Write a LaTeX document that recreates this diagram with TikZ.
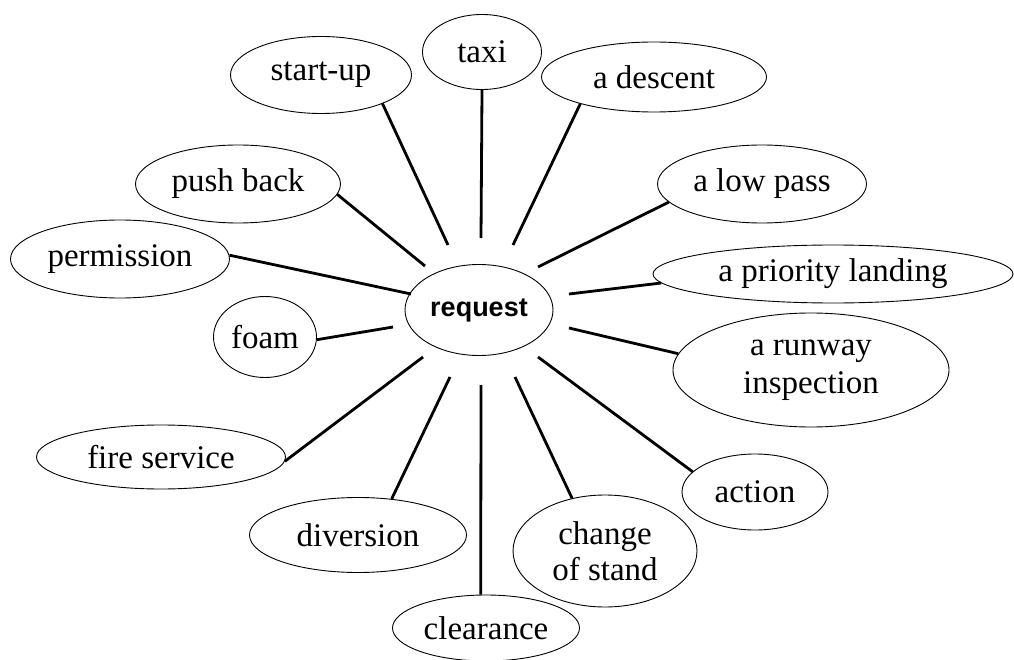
\documentclass[tikz,border=0pt]{standalone}
\usepackage{fontspec}
\setmainfont{Liberation Serif}
\newfontfamily\reqfont{Liberation Sans}
\usetikzlibrary{shapes.geometric}
\begin{document}
\begin{tikzpicture}[x=1pt,y=-1pt,
  bub/.style={ellipse,draw,line width=0.9pt,inner sep=0pt,align=center,
    font=\fontsize{33}{37}\selectfont},
  spoke/.style={line width=2.8pt}]
\useasboundingbox (0,0) rectangle (1014,660);
% nodes
\node[bub,minimum width=148pt,minimum height=91pt,font=\reqfont\bfseries\fontsize{27}{30}\selectfont] (req) at (479,310) {request};
\node[bub,minimum width=181pt,minimum height=77pt] (startup) at (321,75) {start-up};
\node[bub,minimum width=119pt,minimum height=75pt] (taxi) at (482,52) {taxi};
\node[bub,minimum width=225pt,minimum height=70pt] (descent) at (654,77) {a descent};
\node[bub,minimum width=209pt,minimum height=78pt] (lowpass) at (762,184) {a low pass};
\node[bub,minimum width=360pt,minimum height=58pt] (priority) at (833,274) {a priority landing};
\node[bub,minimum width=276pt,minimum height=114pt,font=\fontsize{33}{38}\selectfont] (runway) at (811,370) {a runway\\inspection};
\node[bub,minimum width=146pt,minimum height=76pt] (action) at (755,492) {action};
\node[bub,minimum width=184pt,minimum height=112pt,font=\fontsize{33}{36}\selectfont] (stand) at (605,551) {change\\of stand};
\node[bub,minimum width=187pt,minimum height=66pt] (clearance) at (486,628) {clearance};
\node[bub,minimum width=217pt,minimum height=75pt] (diversion) at (358,535) {diversion};
\node[bub,minimum width=249pt,minimum height=64pt] (fire) at (161,457) {fire service};
\node[bub,minimum width=103pt,minimum height=81pt] (foam) at (265,337) {foam};
\node[bub,minimum width=219pt,minimum height=78pt] (permission) at (120,259) {permission};
\node[bub,minimum width=205pt,minimum height=78pt] (pushback) at (238,184) {push back};
% inner ends of spokes
\coordinate (s1) at (448,245);
\coordinate (s2) at (481,238);
\coordinate (s3) at (513,245);
\coordinate (s4) at (538,267);
\coordinate (s5) at (569,294);
\coordinate (s6) at (569,328);
\coordinate (s7) at (538,357);
\coordinate (s8) at (515,377);
\coordinate (s9) at (481,385);
\coordinate (s10) at (450,377);
\coordinate (s11) at (423,357);
\coordinate (s12) at (393,327);
\coordinate (s13) at (411,294);
\coordinate (s14) at (425,266);
% spokes
\draw[spoke] (s1) -- (startup.-25);
\draw[spoke] (s2) -- (taxi.-90);
\draw[spoke] (s3) -- (descent.-160);
\draw[spoke] (s4) -- (lowpass.-169);
\draw[spoke] (s5) -- (priority.-177);
\draw[spoke] (s6) -- (runway.173);
\draw[spoke] (s7) -- (action.162);
\draw[spoke] (s8) -- (stand.122);
\draw[spoke] (s9) -- (clearance.99);
\draw[spoke] (s10) -- (diversion.47);
\draw[spoke] (s11) -- (fire.-2);
\draw[spoke] (s12) -- (foam.-3);
\draw[spoke] (s13) -- (permission.2);
\draw[spoke] (s14) -- (pushback.-6);
\end{tikzpicture}
\end{document}
